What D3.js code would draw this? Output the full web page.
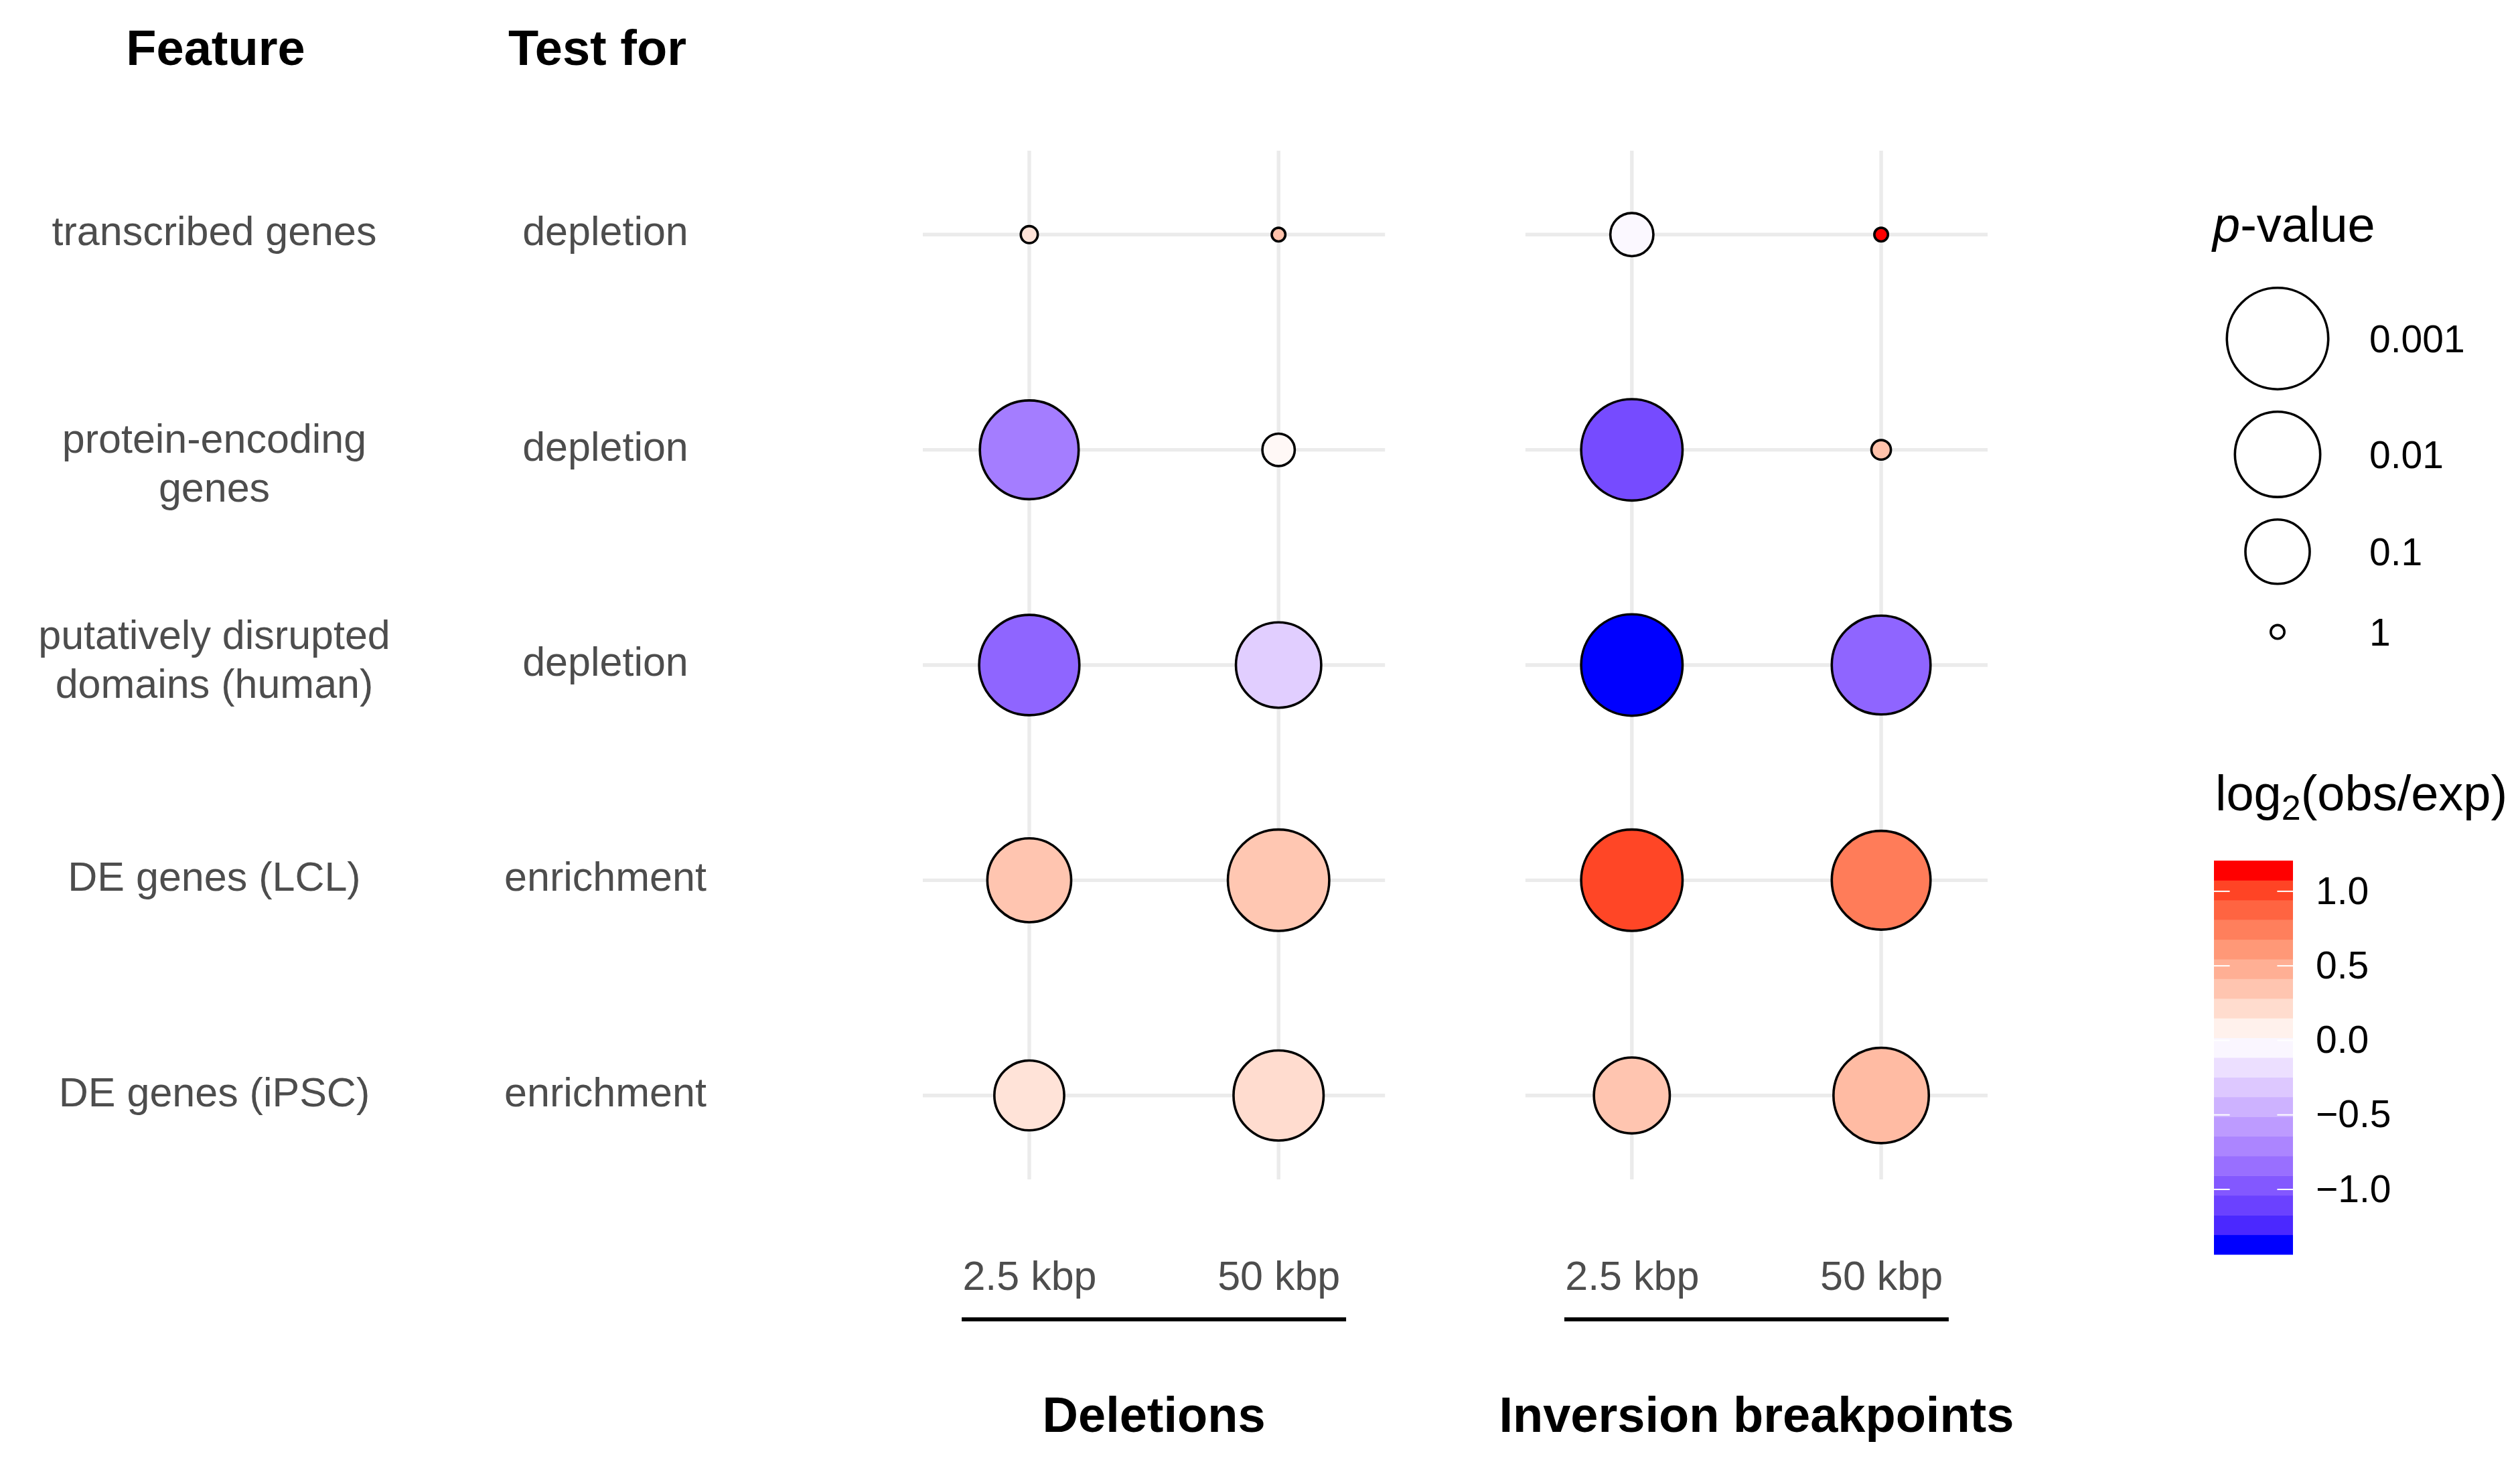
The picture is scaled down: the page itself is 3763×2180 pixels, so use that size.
<!DOCTYPE html>
<html>
<head>
<meta charset="utf-8">
<script src="https://cdn.jsdelivr.net/npm/d3@7"></script>
<style>
  html, body { margin: 0; padding: 0; background: #ffffff; }
  svg text { font-family: "Liberation Sans", Arial, Helvetica, sans-serif; }
</style>
</head>
<body>
<svg id="chart" width="3763" height="2180"></svg>
<script>
// ---------------- data ----------------
const featureLines = [
  ["transcribed genes"],
  ["protein-encoding", "genes"],
  ["putatively disrupted", "domains (human)"],
  ["DE genes (LCL)"],
  ["DE genes (iPSC)"]
];
const features = featureLines.map(d => d.join(" "));
const tests = ["depletion", "depletion", "depletion", "enrichment", "enrichment"];
const panels = ["Deletions", "Inversion breakpoints"];
const windows = ["2.5 kbp", "50 kbp"];

// log2(obs/exp) per series (rows in order of features)
const del25_log2 = [0.17, -0.76, -0.90, 0.35, 0.17];
const del50_log2 = [0.37, 0.04, -0.28, 0.34, 0.21];
const inv25_log2 = [-0.04, -1.05, -1.37, 1.00, 0.35];
const inv50_log2 = [1.14, 0.37, -0.90, 0.76, 0.41];
// p-values per series
const del25_p = [0.99, 0.0015, 0.0012, 0.012, 0.059];
const del50_p = [1.0, 0.73, 0.01, 0.001, 0.0053];
const inv25_p = [0.46, 0.001, 0.001, 0.001, 0.031];
const inv50_p = [1.0, 0.97, 0.0015, 0.0015, 0.0025];

const pBreaks = [0.001, 0.01, 0.1, 1];
const pBreakLabels = ["0.001", "0.01", "0.1", "1"];
const colorBreaks = [1.0, 0.5, 0.0, -0.5, -1.0];
const colorLimits = [-1.37, 1.14];

const series = [
  { panel: panels[0], win: windows[0], log2: del25_log2, p: del25_p },
  { panel: panels[0], win: windows[1], log2: del50_log2, p: del50_p },
  { panel: panels[1], win: windows[0], log2: inv25_log2, p: inv25_p },
  { panel: panels[1], win: windows[1], log2: inv50_log2, p: inv50_p }
];
const points = [];
series.forEach(s => features.forEach((f, i) => points.push({
  panel: s.panel, win: s.win, feature: f, log2: s.log2[i], p: s.p[i]
})));

// ---------------- layout ----------------
const svg = d3.select("#chart");
const FONT_LABEL = 61, FONT_TITLE = 74, FONT_LEG = 57;
const GREY = "#4D4D4D";
const featureLabelShift = [0, 25, -4, 0, 0]; // vertical nudge of multi-line labels

const panelX = d3.scaleBand().domain(panels).range([1378, 2968]).paddingInner(0.233);
const panelW = panelX.bandwidth();
const x = d3.scalePoint().domain(windows).range([0, panelW]).padding(0.427);
const y = d3.scalePoint().domain(features).range([225, 1761]).padding(0.39);

const size = d3.scaleSqrt().domain([0, 3]).range([12, 77.5]).clamp(true);
const strokeW = 3.6;
const radius = p => size(-Math.log10(p)) - strokeW / 2;

const color = d3.scaleLinear()
  .domain([colorLimits[0], 0, colorLimits[1]])
  .range(["#0000FF", "#FFFFFF", "#FF0000"])
  .interpolate(d3.interpolateLab)
  .clamp(true);

// ---------------- headers & row labels ----------------
svg.append("text").attr("x", 322).attr("y", 97).attr("text-anchor", "middle")
  .attr("font-size", FONT_TITLE).attr("font-weight", "bold").attr("fill", "#000").text("Feature");
svg.append("text").attr("x", 892).attr("y", 97).attr("text-anchor", "middle")
  .attr("font-size", FONT_TITLE).attr("font-weight", "bold").attr("fill", "#000").text("Test for");

const lineH = 73;
featureLines.forEach((lines, i) => {
  const cy = y(features[i]);
  const t = svg.append("text").attr("text-anchor", "middle")
    .attr("font-size", FONT_LABEL).attr("fill", GREY);
  lines.forEach((ln, j) => {
    t.append("tspan").attr("x", 320)
      .attr("y", cy + 16 + featureLabelShift[i] + (j - (lines.length - 1) / 2) * lineH)
      .text(ln);
  });
  svg.append("text").attr("x", 904).attr("y", cy + 16).attr("text-anchor", "middle")
    .attr("font-size", FONT_LABEL).attr("fill", GREY).text(tests[i]);
});

// ---------------- panels ----------------
panels.forEach(pn => {
  const g = svg.append("g").attr("transform", `translate(${panelX(pn)},0)`);
  // grid
  g.selectAll("line.h").data(features).join("line")
    .attr("x1", 0).attr("x2", panelW)
    .attr("y1", d => y(d)).attr("y2", d => y(d))
    .attr("stroke", "#EBEBEB").attr("stroke-width", 5.4);
  g.selectAll("line.v").data(windows).join("line")
    .attr("x1", d => x(d)).attr("x2", d => x(d))
    .attr("y1", y.range()[0]).attr("y2", y.range()[1])
    .attr("stroke", "#EBEBEB").attr("stroke-width", 5.4);
  // points
  g.selectAll("circle").data(points.filter(d => d.panel === pn)).join("circle")
    .attr("cx", d => x(d.win)).attr("cy", d => y(d.feature))
    .attr("r", d => radius(d.p))
    .attr("fill", d => color(d.log2))
    .attr("stroke", "#000").attr("stroke-width", strokeW);
  // x axis labels
  const ax = g.append("g").attr("transform", "translate(0,1880)")
    .call(d3.axisBottom(x).tickSize(0).tickPadding(0));
  ax.select(".domain").remove();
  ax.selectAll("text").attr("font-size", FONT_LABEL).attr("fill", GREY)
    .attr("dy", "0.76em").style("font-family", '"Liberation Sans", Arial, sans-serif');
  // underline
  g.append("line").attr("x1", panelW / 2 - 287).attr("x2", panelW / 2 + 287)
    .attr("y1", 1970).attr("y2", 1970).attr("stroke", "#000").attr("stroke-width", 6);
  // panel title
  g.append("text").attr("x", panelW / 2).attr("y", 2138).attr("text-anchor", "middle")
    .attr("font-size", FONT_TITLE).attr("font-weight", "bold").attr("fill", "#000").text(pn);
});

// ---------------- p-value legend ----------------
const lg = svg.append("g");
const pt = lg.append("text").attr("x", 3304).attr("y", 361).attr("font-size", FONT_TITLE).attr("fill", "#000");
pt.append("tspan").attr("font-style", "italic").text("p");
pt.append("tspan").text("-value");
let cursor = 413;
pBreaks.forEach((p, i) => {
  const r = size(-Math.log10(p));
  const h = Math.max(2 * r + 30, 110);
  const cy = cursor + h / 2;
  cursor += h;
  lg.append("circle").attr("cx", 3401).attr("cy", cy).attr("r", r - strokeW / 2)
    .attr("fill", "#FFFFFF").attr("stroke", "#000").attr("stroke-width", strokeW);
  lg.append("text").attr("x", 3538).attr("y", cy).attr("dy", "0.36em")
    .attr("font-size", FONT_LEG).attr("fill", "#000").text(pBreakLabels[i]);
});

// ---------------- colour legend ----------------
const cg = svg.append("g");
const ct = cg.append("text").attr("x", 3308).attr("y", 1210).attr("font-size", FONT_TITLE).attr("fill", "#000");
ct.append("tspan").text("log");
ct.append("tspan").attr("font-size", 52).attr("dy", 14).text("2");
ct.append("tspan").attr("dy", -14).text("(obs/exp)");

const nbin = 20, barTop = 1285, barBot = 1873, barX = 3306, barW = 118;
const binH = (barBot - barTop) / nbin;
const cy = d3.scaleLinear().domain(colorLimits).range([barBot - binH / 2, barTop + binH / 2]);
const binVals = d3.range(nbin).map(i => colorLimits[0] + i * (colorLimits[1] - colorLimits[0]) / (nbin - 1));
cg.selectAll("rect.bin").data(binVals).join("rect")
  .attr("x", barX).attr("width", barW)
  .attr("y", d => cy(d) - binH / 2).attr("height", binH + 0.5)
  .attr("fill", d => color(d));
colorBreaks.forEach(b => {
  cg.append("line").attr("x1", barX).attr("x2", barX + barW / 5)
    .attr("y1", cy(b)).attr("y2", cy(b)).attr("stroke", "#FFFFFF").attr("stroke-width", 2);
  cg.append("line").attr("x1", barX + barW - barW / 5).attr("x2", barX + barW)
    .attr("y1", cy(b)).attr("y2", cy(b)).attr("stroke", "#FFFFFF").attr("stroke-width", 2);
});
const cax = cg.append("g").attr("transform", `translate(${barX + barW},0)`)
  .call(d3.axisRight(cy).tickValues(colorBreaks).tickFormat(d3.format(".1f")).tickSize(0).tickPadding(34));
cax.select(".domain").remove();
cax.selectAll("text").attr("font-size", FONT_LEG).attr("fill", "#000")
  .style("font-family", '"Liberation Sans", Arial, sans-serif');
</script>
</body>
</html>
